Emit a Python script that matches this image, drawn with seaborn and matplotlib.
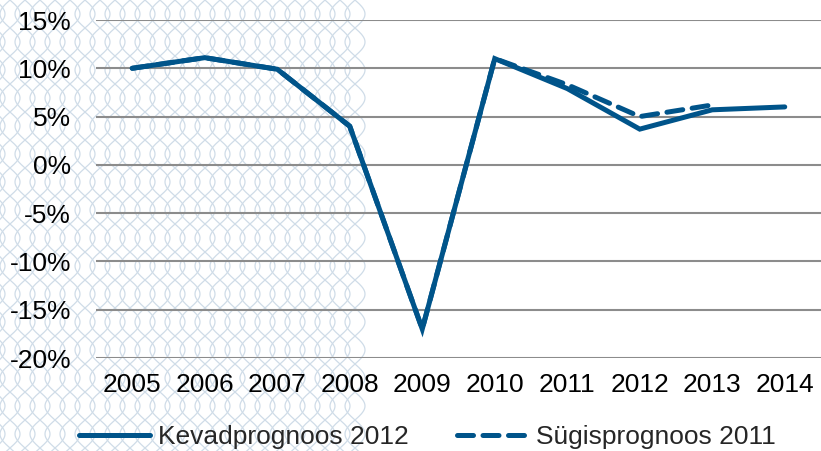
import numpy as np
import pandas as pd
import matplotlib
matplotlib.use("Agg")
import matplotlib.pyplot as plt
import seaborn as sns

years = ["2005", "2006", "2007", "2008", "2009", "2010", "2011", "2012", "2013", "2014"]
spring_2012 = [10.0, 11.1, 9.9, 4.0, -17.0, 11.0, 7.9, 3.7, 5.7, 6.0]
autumn_2011 = [10.0, 11.1, 9.9, 4.0, -17.0, 11.0, 8.3, 5.0, 6.2, np.nan]
series_names = ["Kevadprognoos 2012", "Sügisprognoos 2011"]
yticks = [-20, -15, -10, -5, 0, 5, 10, 15]

sns.set_theme(style="white")
plt.rcParams["font.family"] = ["Liberation Sans", "DejaVu Sans"]

color = "#00548a"
W, H = 821, 451
fig = plt.figure(figsize=(W / 100, H / 100), dpi=100)

# decorative background pattern
bg = fig.add_axes([0, 0, 1, 1], zorder=0)
bg.set_xlim(0, W)
bg.set_ylim(H, 0)
bg.axis("off")
yy = np.linspace(-10, H + 10, 600)
for x0 in np.arange(-5, 358, 15):
    for sgn in (1, -1):
        xs = x0 + sgn * 10 * np.sin(2 * np.pi * yy / 56.0)
        bg.plot(xs, yy, color="#cfdce8", lw=0.9, solid_capstyle="butt")

ax = fig.add_axes([96 / W, 1 - 358 / H, (W - 96) / W, (358 - 20) / H], zorder=1)
ax.patch.set_alpha(0)

x = np.arange(len(years))
df1 = pd.DataFrame({"x": x, "v": spring_2012})
df2 = pd.DataFrame({"x": x, "v": autumn_2011})

sns.lineplot(data=df2, x="x", y="v", ax=ax, color=color, lw=3.6,
             label=series_names[1], zorder=3)
ax.lines[-1].set_dashes([3.2, 1.9])
ax.lines[-1].set_dash_capstyle("round")
sns.lineplot(data=df1, x="x", y="v", ax=ax, color=color, lw=3.6,
             label=series_names[0], zorder=4)
ax.lines[-1].set_solid_capstyle("round")
ax.lines[-1].set_solid_joinstyle("miter")

ax.set_xlim(-0.5, len(years) - 0.5)
ax.set_ylim(-20, 15)
ax.set_yticks(yticks)
ax.set_yticklabels([f"{v}%" for v in yticks])
ax.set_xticks(x)
ax.set_xticklabels(years)
ax.tick_params(axis="both", labelsize=19, length=0, colors="black")
ax.tick_params(axis="y", pad=18)
ax.tick_params(axis="x", pad=11)
ax.grid(axis="y", color="#8c8c8c", lw=1.5)
ax.set_axisbelow(True)
for s in ax.spines.values():
    s.set_visible(False)
ax.set_xlabel("")
ax.set_ylabel("")

handles, labels = ax.get_legend_handles_labels()
order = [labels.index(series_names[0]), labels.index(series_names[1])]
leg = ax.legend([handles[i] for i in order], [labels[i] for i in order],
                loc="center", bbox_to_anchor=(0.457, -0.235),
                ncol=2, frameon=False, fontsize=19, handlelength=2.7,
                handletextpad=0.3, columnspacing=1.8)
for line in leg.get_lines():
    line.set_linewidth(3.6)

fig.savefig("out.png", dpi=100)
